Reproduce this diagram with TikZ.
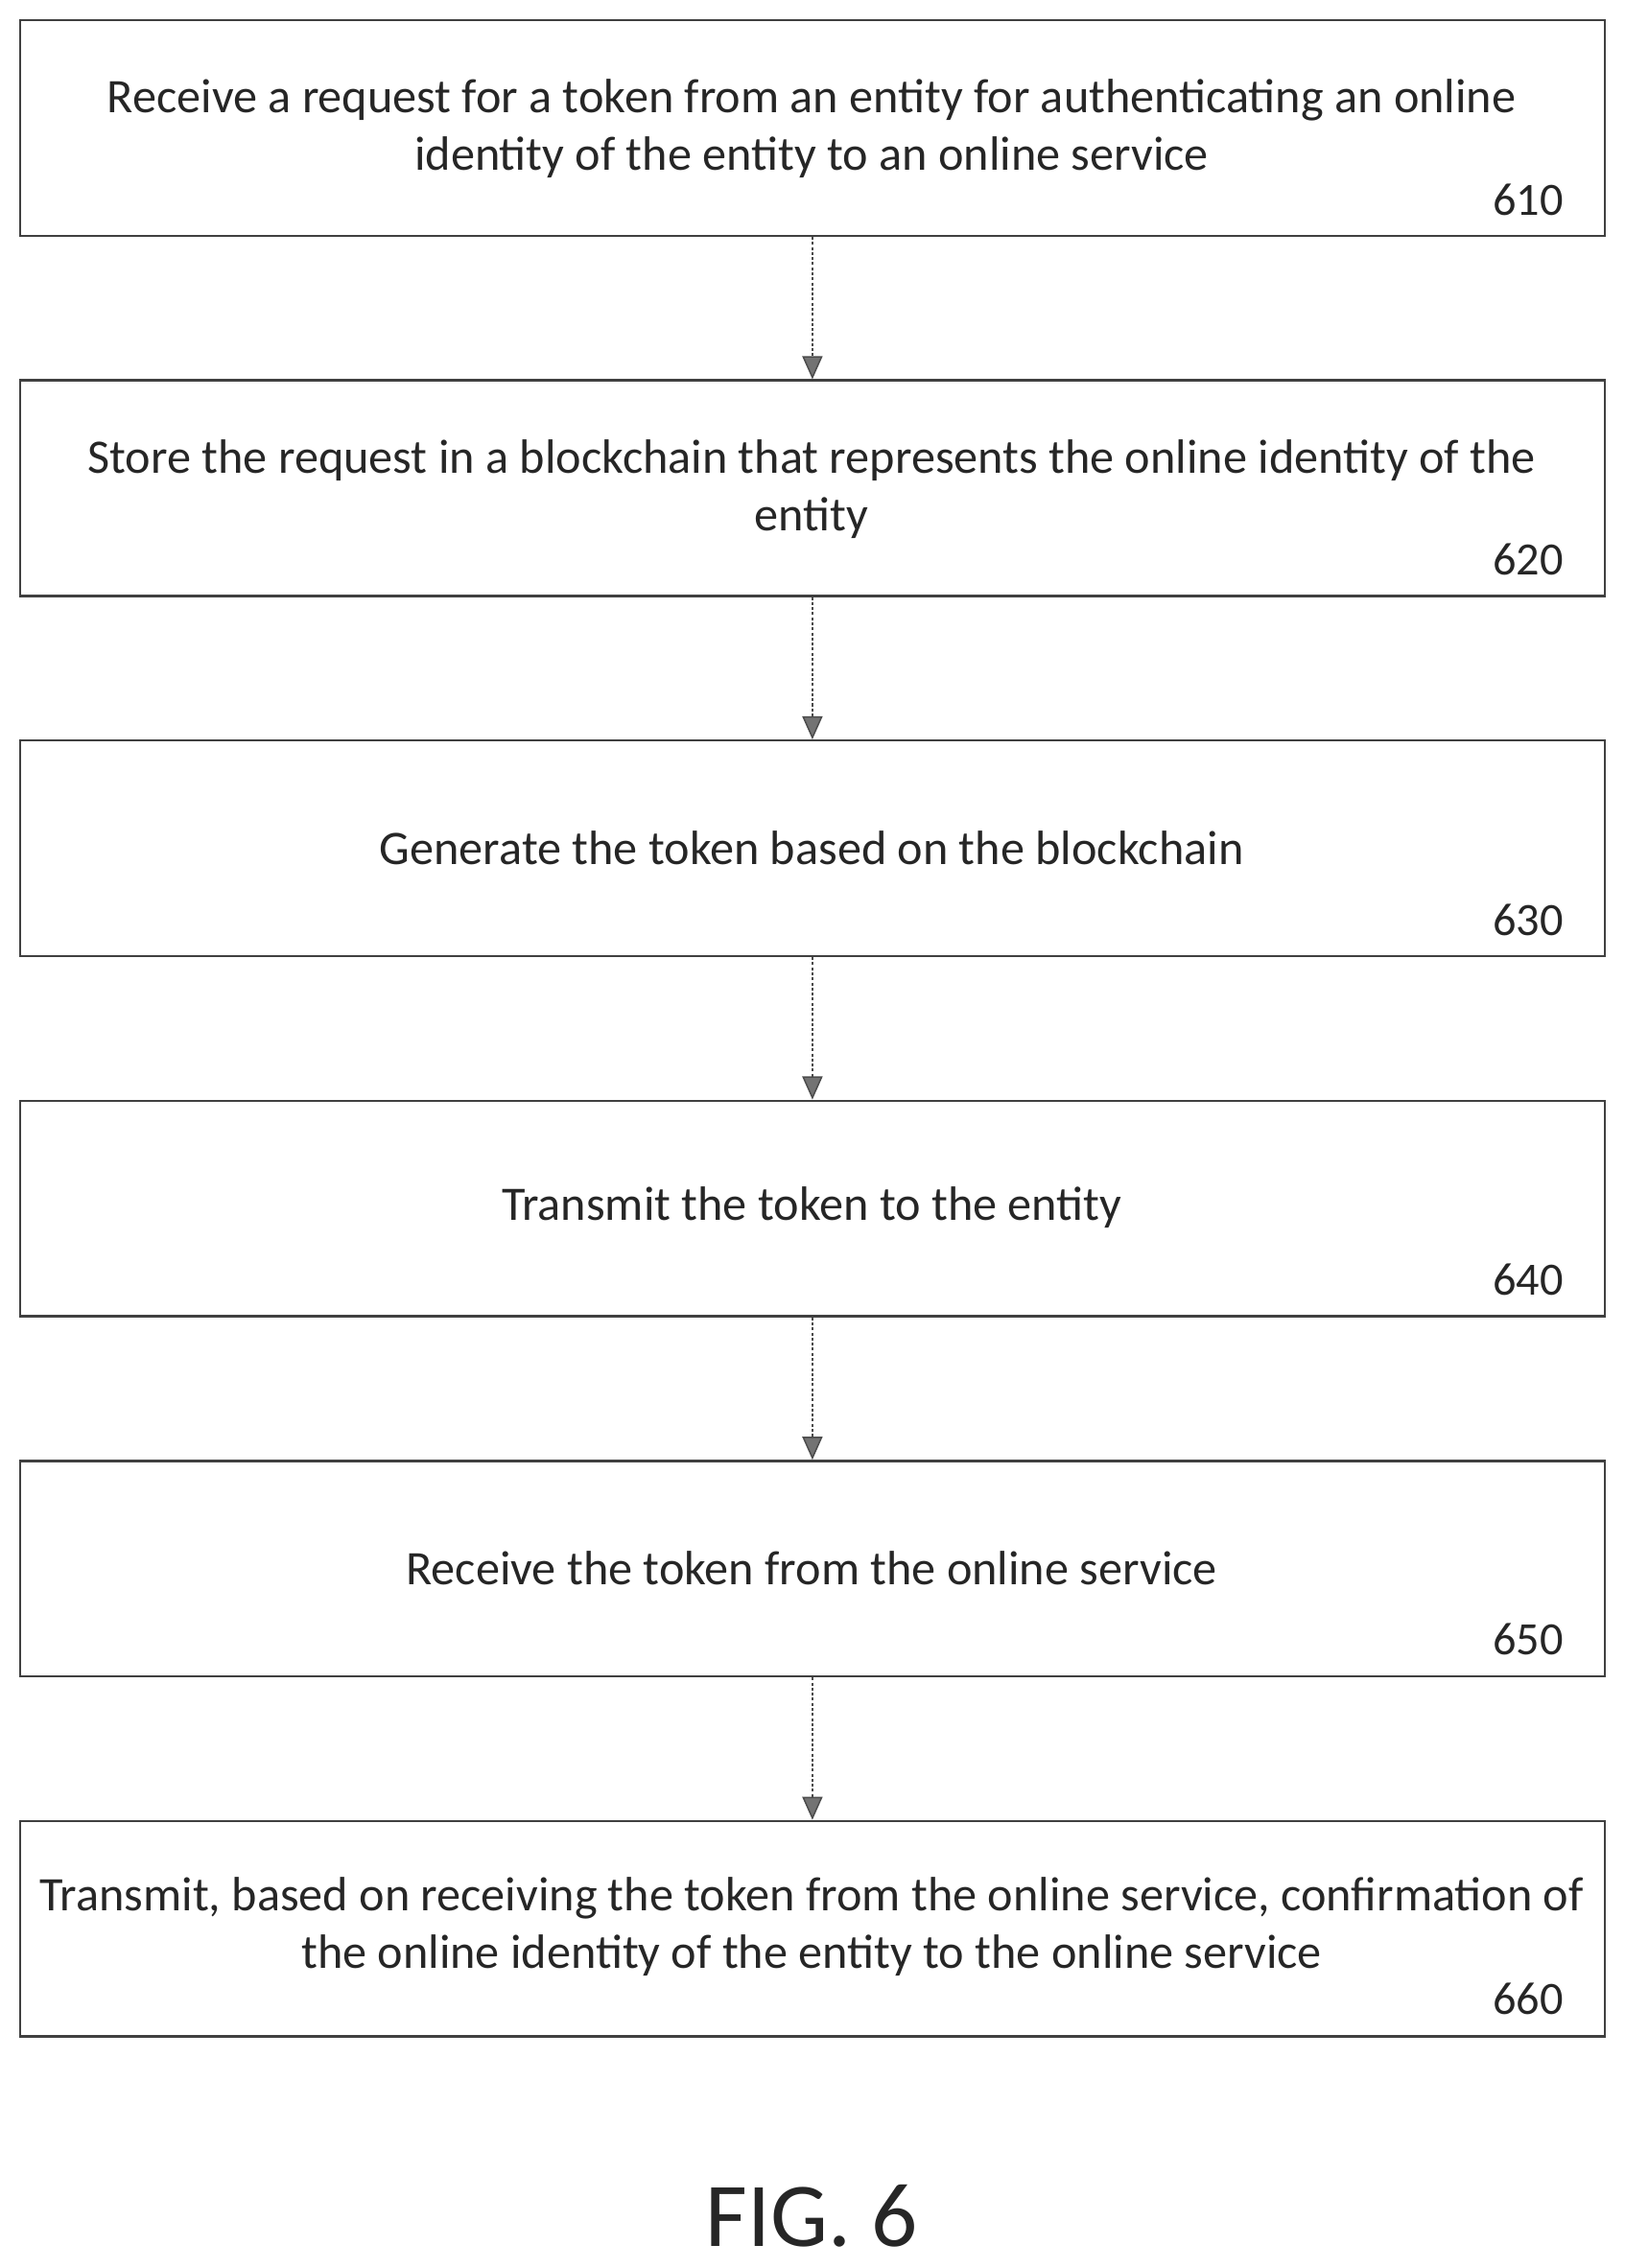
\documentclass[tikz,border=0pt]{standalone}
\usepackage{fontspec}
\setmainfont{Carlito}
\usetikzlibrary{arrows.meta}
\begin{document}
\begin{tikzpicture}[x=1pt,y=-1pt,
  box/.style={draw=black!75,line width=1.6pt,minimum width=1095pt,minimum height=149pt,inner sep=0pt},
  txt/.style={align=center,font=\fontsize{33.3}{40}\selectfont,text=black!85},
  num/.style={anchor=east,font=\fontsize{32}{36}\selectfont,text=black!85},
  arr/.style={draw=black!70,line width=1pt,dash pattern=on 2pt off 1.5pt,-{Triangle[width=14pt,length=16pt,open,fill=black!55]}}]
\useasboundingbox (0,0) rectangle (1123,1568);
\foreach \i/\y in {1/14,2/263,3/512,4/761,5/1010,6/1259}{
  \node[box] (b\i) at (561.5,\y+74.5) {};
}
\node[txt] (t1) at (561,89) {Receive a request for a token from an entity for authenticating an online\\identity of the entity to an online service};
\node[txt] (t2) at (561,338) {Store the request in a blockchain that represents the online identity of the\\entity};
\node[txt] (t3) at (561,586) {Generate the token based on the blockchain};
\node[txt] (t4) at (561,835) {Transmit the token to the entity};
\node[txt] (t5) at (561,1084) {Receive the token from the online service};
\node[txt] (t6) at (561,1332) {Transmit, based on receiving the token from the online service, confirmation of\\the online identity of the entity to the online service};
\node[num] (n1) at (1084,138) {610};
\node[num] (n2) at (1084,387) {620};
\node[num] (n3) at (1084,636) {630};
\node[num] (n4) at (1084,885) {640};
\node[num] (n5) at (1084,1133) {650};
\node[num] (n6) at (1084,1382) {660};
\foreach \a/\b in {1/2,2/3,3/4,4/5,5/6}{
  \draw[arr] (b\a.south) -- (b\b.north);
}
\node[font=\fontsize{63}{70}\selectfont,text=black!85] (fig) at (561,1532) {FIG. 6};
\end{tikzpicture}
\end{document}
